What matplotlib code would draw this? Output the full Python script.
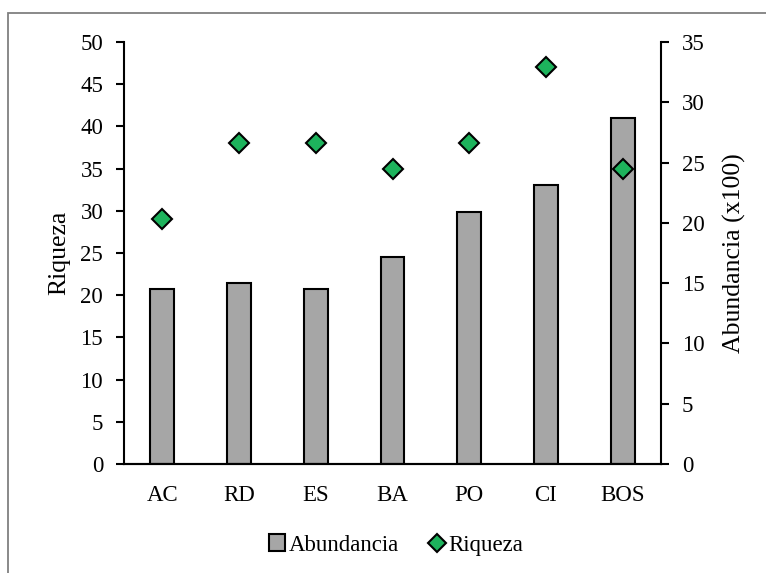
import matplotlib.pyplot as plt
from matplotlib.patches import Rectangle
from matplotlib.lines import Line2D

plt.rcParams['font.family'] = ['Liberation Serif', 'DejaVu Serif']

sitios = ['AC', 'RD', 'ES', 'BA', 'PO', 'CI', 'BOS']
abundancia = [14.5, 15.0, 14.5, 17.2, 20.9, 23.1, 28.7]   # x100
riqueza = [29, 38, 38, 35, 38, 47, 35]

fs = 16.5
fs_lab = 18.5
fig = plt.figure(figsize=(7.66, 5.73), dpi=100)

# outer frame like the spreadsheet chart area
fig.add_artist(Rectangle((8/766, -0.01), 1.0, 1 - 13/573 + 0.01, transform=fig.transFigure,
                         fill=False, ec='#808080', lw=1.3))

ax = fig.add_axes([124/766, 1 - 464/573, 537/766, 422/573])
ax2 = ax.twinx()

x = range(len(sitios))
ax2.bar(x, abundancia, width=0.31, color='#a6a6a6', edgecolor='black', lw=1.5, zorder=2)
ax.plot(x, riqueza, ls='none', marker='D', ms=10, mfc='#1db35c', mec='black', mew=1.5, zorder=3)

ax.set_zorder(ax2.get_zorder() + 1)
ax.patch.set_visible(False)

ax.set_xlim(-0.5, len(sitios) - 0.5)
ax.set_ylim(0, 50)
ax2.set_ylim(0, 35)
ax.set_yticks(range(0, 51, 5))
ax2.set_yticks(range(0, 36, 5))
ax.set_xticks(list(x))
ax.set_xticklabels(sitios)

for a in (ax, ax2):
    a.spines['top'].set_visible(False)
    for s in a.spines.values():
        s.set_linewidth(1.5)
    a.tick_params(axis='y', direction='out', length=6, width=1.5, labelsize=fs, pad=9)
ax.tick_params(axis='x', length=0, labelsize=fs, pad=15)
ax.spines['right'].set_visible(False)
ax2.spines['left'].set_visible(False)

ax.set_ylabel('Riqueza', fontsize=fs_lab, labelpad=7)
ax2.set_ylabel('Abundancia (x100)', fontsize=fs_lab, labelpad=13)

handles = [
    Rectangle((0, 0), 1, 1, fc='#a6a6a6', ec='black', lw=1.5),
    Line2D([], [], ls='none', marker='D', ms=9, mfc='#1db35c', mec='black', mew=1.5),
]
fig.legend(handles, ['Abundancia', 'Riqueza'], loc='center', bbox_to_anchor=(396/766, 1 - 545/573),
           ncol=2, frameon=False, fontsize=fs, handlelength=0.7, handleheight=0.7,
           handletextpad=0.15, columnspacing=1.3)

fig.savefig('out.png', dpi=100)
